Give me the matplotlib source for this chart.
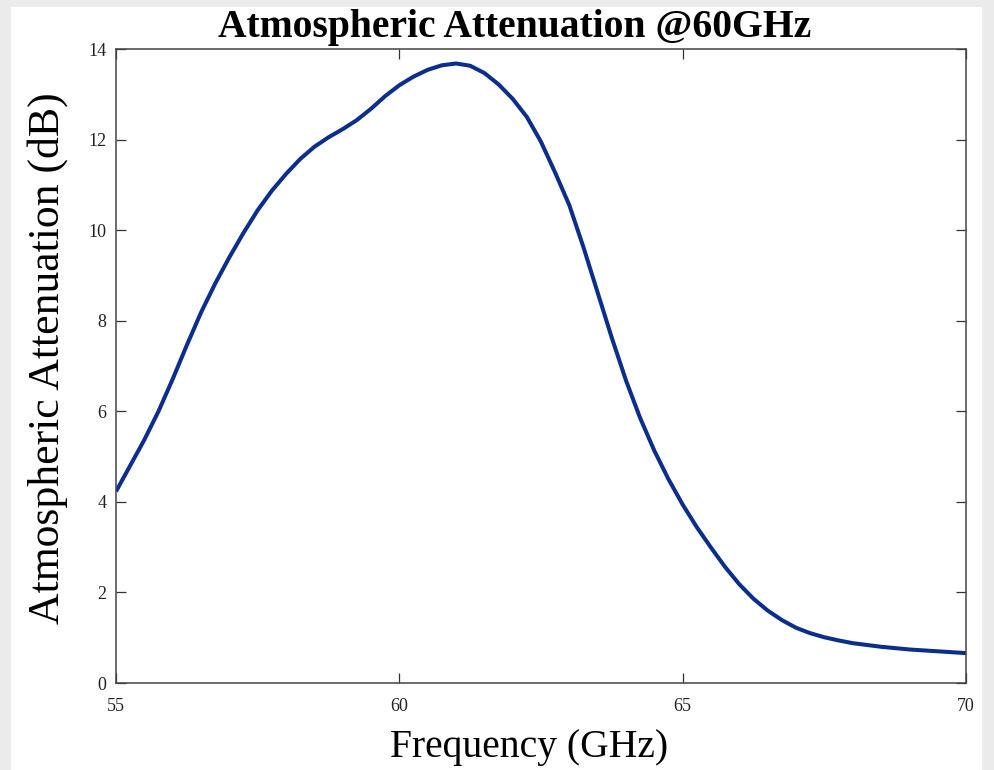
import matplotlib
matplotlib.use("Agg")
import matplotlib.pyplot as plt
from matplotlib.patches import Rectangle

# frequency (GHz) and attenuation (dB)
freq = [55.0, 55.25, 55.5, 55.75, 56.0, 56.25, 56.5, 56.75, 57.0, 57.25,
        57.5, 57.75, 58.0, 58.25, 58.5, 58.75, 59.0, 59.25, 59.5, 59.75,
        60.0, 60.25, 60.5, 60.75, 61.0, 61.25, 61.5, 61.75, 62.0, 62.25,
        62.5, 62.75, 63.0, 63.25, 63.5, 63.75, 64.0, 64.25, 64.5, 64.75,
        65.0, 65.25, 65.5, 65.75, 66.0, 66.25, 66.5, 66.75, 67.0, 67.25,
        67.5, 67.75, 68.0, 68.5, 69.0, 69.5, 70.0]
atten = [4.23, 4.80, 5.37, 6.00, 6.71, 7.46, 8.18, 8.82, 9.40, 9.94,
         10.44, 10.87, 11.24, 11.57, 11.84, 12.05, 12.23, 12.43, 12.68, 12.96,
         13.20, 13.39, 13.54, 13.64, 13.68, 13.63, 13.47, 13.22, 12.90, 12.50,
         11.95, 11.27, 10.55, 9.62, 8.62, 7.62, 6.68, 5.85, 5.13, 4.50,
         3.94, 3.44, 2.99, 2.56, 2.18, 1.86, 1.60, 1.39, 1.22, 1.10,
         1.01, 0.94, 0.88, 0.80, 0.74, 0.70, 0.66]

xticks = [55, 60, 65, 70]
yticks = [0, 2, 4, 6, 8, 10, 12, 14]

serif = "Liberation Serif"

fig = plt.figure(figsize=(9.94, 7.70), dpi=100, facecolor="#ebebeb")
# white page area inside the gray border
fig.patches.append(Rectangle((11 / 994, 0), (982 - 11) / 994, 1 - 7 / 770,
                             transform=fig.transFigure, facecolor="white",
                             edgecolor="none", zorder=-10))

ax = fig.add_axes([116 / 994, 1 - 683 / 770, 850 / 994, 634 / 770])
ax.set_zorder(1)
ax.plot(freq, atten, color="#0b2d8c", linewidth=2.9,
        solid_capstyle="butt", solid_joinstyle="round")

ax.set_xlim(55, 70)
ax.set_ylim(0, 14)
ax.set_xticks(xticks)
ax.set_yticks(yticks)
ax.tick_params(direction="in", length=7, width=0.9, color="#333333",
               top=True, right=True, labelsize=13, labelcolor="#222222", pad=7)
ax.tick_params(axis="x", pad=11)
for lab in ax.get_xticklabels() + ax.get_yticklabels():
    lab.set_family(serif)
for s in ax.spines.values():
    s.set_color("#444444")
    s.set_linewidth(1.1)

ax.set_xlabel("Frequency (GHz)", family=serif, fontsize=28.5)
ax.xaxis.set_label_coords((529 - 116) / 850, -(748 - 683) / 634)
ax.xaxis.label.set_va("center")
ax.set_ylabel("Atmospheric Attenuation (dB)", family=serif, fontsize=31.5)
ax.yaxis.set_label_coords((48 - 116) / 850, (683 - 358) / 634)
ax.yaxis.label.set_va("center")

fig.text(515 / 994, 1 - 27 / 770, "Atmospheric Attenuation @60GHz",
         family=serif, fontweight="bold", fontsize=28.5, ha="center", va="center")

fig.savefig("out.png", dpi=100, facecolor=fig.get_facecolor())
